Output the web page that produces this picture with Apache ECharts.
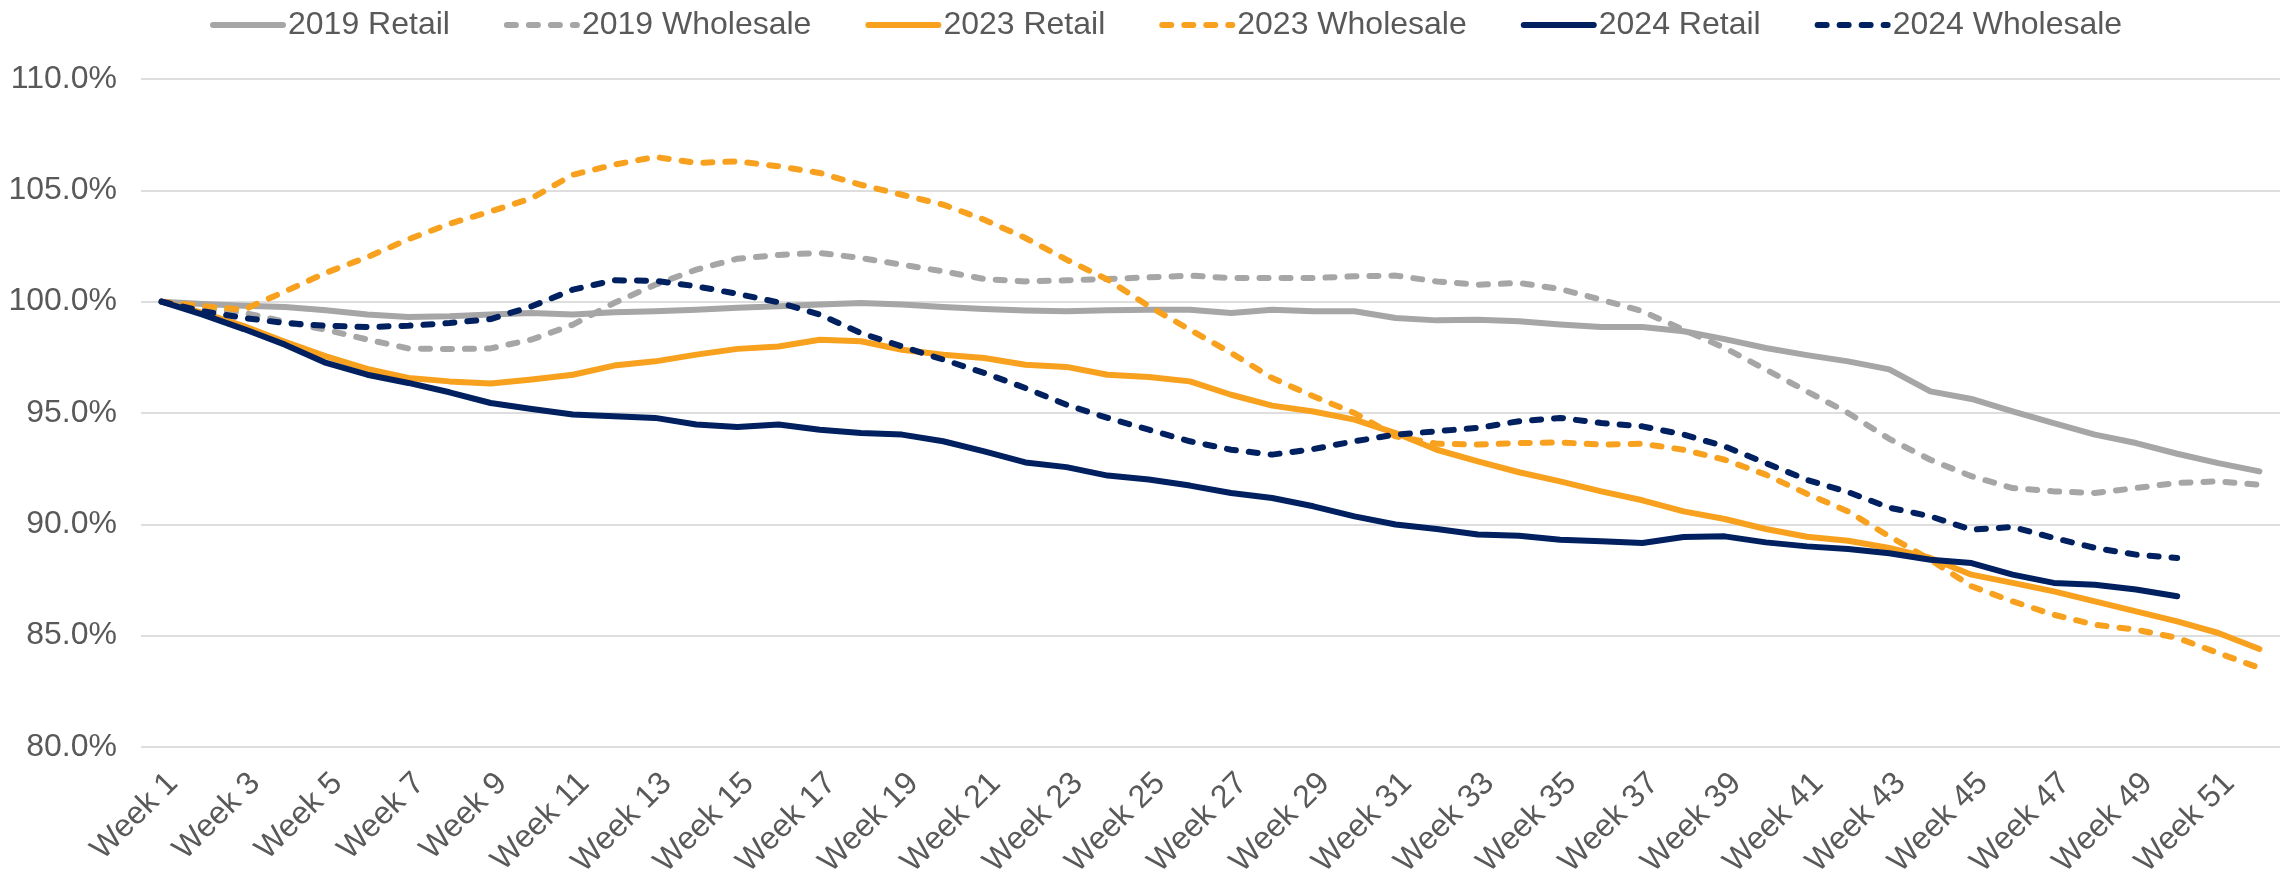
<!DOCTYPE html>
<html>
<head>
<meta charset="utf-8">
<title>Weekly index</title>
<script src="https://cdn.jsdelivr.net/npm/echarts@6/dist/echarts.min.js"></script>
<style>
  html, body { margin: 0; padding: 0; background: #ffffff; }
  #chart { width: 2287px; height: 873px; }
</style>
</head>
<body>
<div id="chart"></div>
<script>
// Week labels 1..52
const weeks = Array.from({ length: 52 }, (_, i) => 'Week ' + (i + 1));

// Index values, % of week 1
const retail2019 = [
  100, 99.9, 99.82, 99.76, 99.61, 99.42, 99.31, 99.34, 99.42, 99.49, 99.42, 99.52, 99.57, 99.64, 99.73,
  99.79, 99.87, 99.94, 99.87, 99.76, 99.67, 99.6, 99.57, 99.61, 99.64, 99.64, 99.49, 99.64,
  99.57, 99.57, 99.27, 99.16, 99.19, 99.12, 98.97, 98.86, 98.86, 98.67, 98.32, 97.92, 97.6, 97.32, 96.96,
  95.97, 95.63, 95.07, 94.55, 94.03, 93.65, 93.17, 92.75, 92.38
];
const wholesale2019 = [
  100, 99.7, 99.5, 99.1, 98.74, 98.3, 97.9, 97.87, 97.9, 98.3, 98.97, 99.94, 100.76, 101.44, 101.93,
  102.1, 102.19, 101.96, 101.66, 101.36, 101.02, 100.91, 100.96, 101.02, 101.09, 101.17, 101.06, 101.06,
  101.06, 101.14, 101.17, 100.91, 100.76, 100.84, 100.57, 100.09, 99.57, 98.74, 97.92, 96.95, 95.97, 95.0, 93.84,
  92.9, 92.16, 91.63, 91.48, 91.41, 91.63, 91.86, 91.93, 91.78
];
const retail2023 = [
  100, 99.5, 98.9, 98.2, 97.54, 96.98, 96.57, 96.42, 96.32, 96.5, 96.72, 97.13, 97.32, 97.62, 97.88,
  97.99, 98.29, 98.22, 97.84, 97.62, 97.47, 97.17, 97.07, 96.72, 96.62, 96.42, 95.82, 95.33,
  95.07, 94.7, 94.1, 93.35, 92.83, 92.34, 91.93, 91.48, 91.08, 90.58, 90.24, 89.79, 89.44, 89.26, 88.94,
  88.49, 87.74, 87.37, 86.99, 86.54, 86.09, 85.64, 85.12, 84.4
];
const wholesale2023 = [
  100, 99.8, 99.64, 100.46, 101.3, 102.0, 102.8, 103.5, 104.05, 104.65, 105.7, 106.15, 106.5, 106.23, 106.3,
  106.08, 105.78, 105.25, 104.8, 104.36, 103.68, 102.86, 101.89, 100.99, 99.8, 98.74, 97.7, 96.57,
  95.75, 95.0, 93.95, 93.62, 93.58, 93.65, 93.68, 93.58, 93.62, 93.35, 92.9, 92.23, 91.37, 90.58, 89.46,
  88.41, 87.22, 86.54, 85.94, 85.49, 85.27, 84.9, 84.22, 83.55
];
const retail2024 = [
  100, 99.42, 98.77, 98.07, 97.25, 96.72, 96.35, 95.93, 95.45, 95.18, 94.93, 94.85, 94.78, 94.48, 94.37,
  94.48, 94.25, 94.1, 94.03, 93.73, 93.28, 92.78, 92.57, 92.19, 92.01, 91.74, 91.41, 91.18,
  90.81, 90.36, 89.99, 89.79, 89.54, 89.49, 89.31, 89.24, 89.16, 89.43, 89.46, 89.19, 89.01, 88.89, 88.7,
  88.41, 88.26, 87.74, 87.37, 87.29, 87.07, 86.77
];
const wholesale2024 = [
  100, 99.57, 99.27, 99.04, 98.92, 98.86, 98.92, 99.04, 99.22, 99.79, 100.54, 100.96, 100.94, 100.69, 100.35,
  99.97, 99.42, 98.59, 97.99, 97.4, 96.8, 96.12, 95.37, 94.78, 94.25, 93.73, 93.35, 93.13,
  93.38, 93.73, 94.03, 94.18, 94.33, 94.63, 94.78, 94.55, 94.4, 94.03, 93.5, 92.75, 92.0, 91.45, 90.75,
  90.36, 89.76, 89.88, 89.39, 88.94, 88.64, 88.49
];

// Y-axis range and step, in percent
const yMin = 80;
const yMax = 110;
const yStep = 5;

const GRAY = '#A6A6A6';
const ORANGE = '#F8A11E';
const NAVY = '#002060';
const TEXT = '#595959';
const FONT = '"Liberation Sans", Arial, sans-serif';
const DASH = [9, 13];

function lineSeries(name, data, color, dashed) {
  return {
    name: name,
    type: 'line',
    data: data,
    symbol: 'none',
    smooth: false,
    lineStyle: {
      color: color,
      width: 6,
      type: dashed ? DASH : 'solid',
      cap: 'round',
      join: 'round'
    },
    itemStyle: { color: color },
    emphasis: { disabled: true }
  };
}

const chart = echarts.init(document.getElementById('chart'), null, { renderer: 'canvas' });
chart.setOption({
  animation: false,
  backgroundColor: '#ffffff',
  textStyle: { fontFamily: FONT },
  legend: {
    top: 4,
    left: 205,
    itemWidth: 70,
    itemHeight: 12,
    itemGap: 54,
    itemStyle: { opacity: 0 },
    lineStyle: { width: 6, cap: 'round' },
    textStyle: { fontSize: 32, color: TEXT, fontFamily: FONT },
    data: ['2019 Retail', '2019 Wholesale', '2023 Retail', '2023 Wholesale', '2024 Retail', '2024 Wholesale']
  },
  grid: { left: 141, right: 7, top: 79, bottom: 126, containLabel: false, outerBoundsMode: 'none' },
  xAxis: {
    type: 'category',
    data: weeks,
    boundaryGap: true,
    axisLine: { show: false },
    axisTick: { show: false },
    axisLabel: {
      interval: 1,
      rotate: 45,
      margin: 20,
      verticalAlign: 'top',
      fontSize: 32,
      color: TEXT,
      fontFamily: FONT
    },
    splitLine: { show: false }
  },
  yAxis: {
    type: 'value',
    min: yMin,
    max: yMax,
    interval: yStep,
    axisLine: { show: false },
    axisTick: { show: false },
    axisLabel: {
      margin: 24,
      fontSize: 32,
      color: TEXT,
      fontFamily: FONT,
      formatter: v => v.toFixed(1) + '%'
    },
    splitLine: { lineStyle: { color: '#DEDEDE', width: 2 } }
  },
  series: [
    lineSeries('2019 Retail', retail2019, GRAY, false),
    lineSeries('2019 Wholesale', wholesale2019, GRAY, true),
    lineSeries('2023 Retail', retail2023, ORANGE, false),
    lineSeries('2023 Wholesale', wholesale2023, ORANGE, true),
    lineSeries('2024 Retail', retail2024, NAVY, false),
    lineSeries('2024 Wholesale', wholesale2024, NAVY, true)
  ]
});
</script>
</body>
</html>
